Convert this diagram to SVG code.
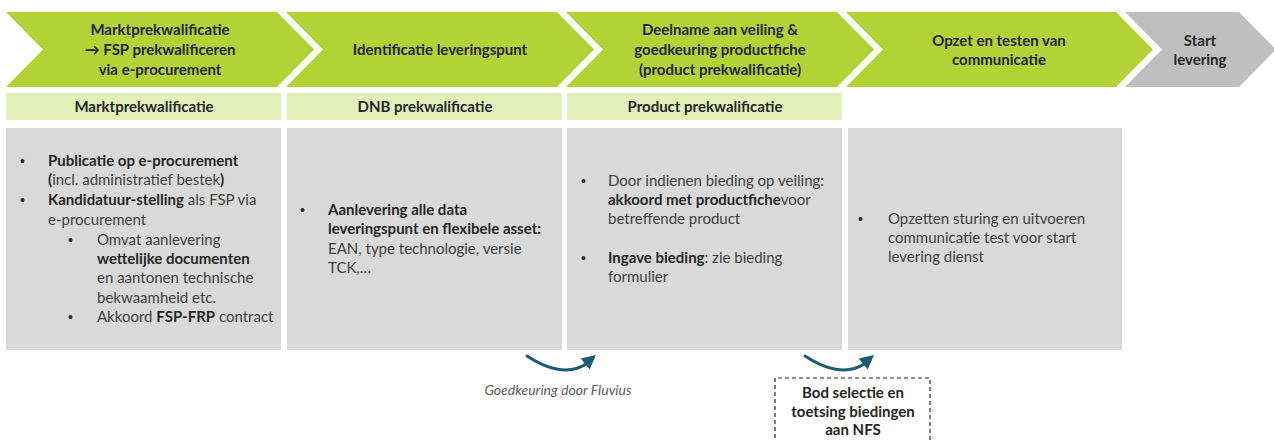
<svg xmlns="http://www.w3.org/2000/svg" width="1274" height="441" viewBox="0 0 1274 441">
<style>
.chev{fill:#b2d235}
.chevg{fill:#bfbfbf}
.sub{fill:#e3efb9}
.box{fill:#d9d9d9}
.h{font-family:Lato,"Liberation Sans",sans-serif;font-weight:bold;font-size:15px;fill:#262626;text-anchor:middle}
.t{font-family:Lato,"Liberation Sans",sans-serif;font-size:15px;fill:#404040}
.bu{font-family:"Liberation Sans",sans-serif;font-size:14px;fill:#262626}
.b{font-weight:bold;fill:#262626}
.it{font-family:Lato,"Liberation Sans",sans-serif;font-style:italic;font-size:14px;fill:#595959;text-anchor:middle}
.arr{fill:none;stroke:#1d5b74;stroke-width:3;stroke-linecap:round}
.ah{fill:#1d5b74}
.dash{fill:none;stroke:#262626;stroke-width:1.2;stroke-dasharray:4 3}
</style>
<g id="step1">
<polygon class="chev" points="6,12 277,12 314,49.5 277,87 6,87 43,49.5"/>
<text class="h" x="160" y="35">Marktprekwalificatie</text>
<text class="h" x="160" y="55">→ FSP prekwalificeren</text>
<text class="h" x="160" y="75">via e-procurement</text>
</g>
<g id="step2">
<polygon class="chev" points="286,12 557,12 594,49.5 557,87 286,87 323,49.5"/>
<text class="h" x="440" y="55">Identificatie leveringspunt</text>
</g>
<g id="step3">
<polygon class="chev" points="566,12 837,12 874,49.5 837,87 566,87 603,49.5"/>
<text class="h" x="720" y="35">Deelname aan veiling &amp;</text>
<text class="h" x="720" y="55">goedkeuring productfiche</text>
<text class="h" x="720" y="75">(product prekwalificatie)</text>
</g>
<g id="step4">
<polygon class="chev" points="846,12 1116,12 1153,49.5 1116,87 846,87 883,49.5"/>
<text class="h" x="999" y="46">Opzet en testen van</text>
<text class="h" x="999" y="65">communicatie</text>
</g>
<g id="step5">
<polygon class="chevg" points="1125,12 1239,12 1276,49.5 1239,87 1125,87 1162,49.5"/>
<text class="h" x="1200" y="46">Start</text>
<text class="h" x="1200" y="65">levering</text>
</g>
<g id="sub1">
<rect class="sub" x="6" y="93" width="275" height="27"/>
<text class="h" x="144" y="112">Marktprekwalificatie</text>
</g>
<g id="sub2">
<rect class="sub" x="287" y="93" width="275" height="27"/>
<text class="h" x="425" y="112">DNB prekwalificatie</text>
</g>
<g id="sub3">
<rect class="sub" x="567" y="93" width="275" height="27"/>
<text class="h" x="705" y="112">Product prekwalificatie</text>
</g>
<g id="box1">
<rect class="box" x="6" y="128" width="275" height="222"/>
<text class="bu" x="20" y="166">•</text>
<text class="t b" x="48" y="166">Publicatie op e-procurement</text>
<text class="t" x="48" y="185"><tspan class="b">(</tspan>incl. administratief bestek<tspan class="b">)</tspan></text>
<text class="bu" x="20" y="205">•</text>
<text class="t" x="48" y="205"><tspan class="b">Kandidatuur-stelling</tspan> als FSP via</text>
<text class="t" x="48" y="225">e-procurement</text>
<text class="bu" x="68" y="245">•</text>
<text class="t" x="97" y="245">Omvat aanlevering</text>
<text class="t b" x="97" y="264">wettelijke documenten</text>
<text class="t" x="97" y="283">en aantonen technische</text>
<text class="t" x="97" y="303">bekwaamheid etc.</text>
<text class="bu" x="68" y="322">•</text>
<text class="t" x="97" y="322">Akkoord <tspan class="b">FSP-FRP</tspan> contract</text>
</g>
<g id="box2">
<rect class="box" x="287" y="128" width="275" height="222"/>
<text class="bu" x="300" y="215">•</text>
<text class="t b" x="328" y="215">Aanlevering alle data</text>
<text class="t b" x="328" y="234">leveringspunt en flexibele asset:</text>
<text class="t" x="328" y="254">EAN, type technologie, versie</text>
<text class="t" x="328" y="273">TCK,…</text>
</g>
<g id="box3">
<rect class="box" x="567" y="128" width="275" height="222"/>
<text class="bu" x="581" y="186">•</text>
<text class="t" x="608" y="186">Door indienen bieding op veiling:</text>
<text class="t" x="608" y="205"><tspan class="b">akkoord met productfiche</tspan>voor</text>
<text class="t" x="608" y="224">betreffende product</text>
<text class="bu" x="581" y="263">•</text>
<text class="t" x="608" y="263"><tspan class="b">Ingave bieding</tspan>:  zie bieding</text>
<text class="t" x="608" y="282">formulier</text>
</g>
<g id="box4">
<rect class="box" x="848" y="128" width="274" height="222"/>
<text class="bu" x="858" y="224">•</text>
<text class="t" x="888" y="224">Opzetten sturing en uitvoeren</text>
<text class="t" x="888" y="243">communicatie test voor start</text>
<text class="t" x="888" y="262">levering dienst</text>
</g>
<g id="connectors">
<path class="arr" d="M527,356 C545,368 568,376 586,364"/>
<polygon class="ah" points="596,355 589.7,369.4 580.7,358.6"/>
<path class="arr" d="M805,356 C823,368 846,376 864,364"/>
<polygon class="ah" points="874,355 867.7,369.4 858.7,358.6"/>
</g>
<g id="label1">
<text class="it" x="558" y="395">Goedkeuring door Fluvius</text>
</g>
<g id="note">
<path class="dash" d="M775,445 V378 H930 V445"/>
<text class="h" x="853" y="398">Bod selectie en</text>
<text class="h" x="853" y="417">toetsing biedingen</text>
<text class="h" x="853" y="435">aan NFS</text>
</g>
</svg>
